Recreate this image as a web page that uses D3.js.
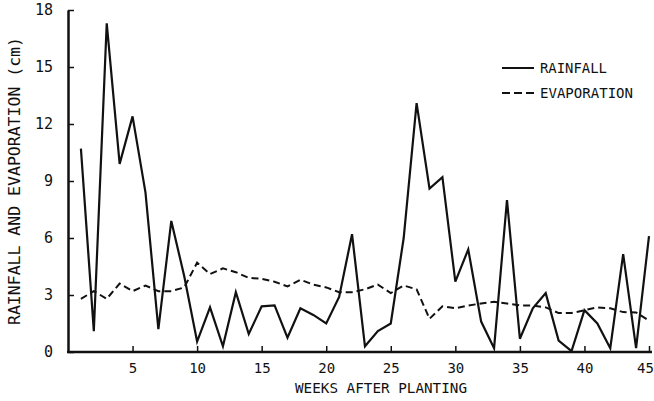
<!DOCTYPE html>
<html>
<head>
<meta charset="utf-8">
<script src="https://cdn.jsdelivr.net/npm/d3@7"></script>
<style>
  html, body { margin: 0; padding: 0; background: #fff; }
  svg { display: block; }
  text { font-family: "DejaVu Sans Mono", "Liberation Mono", monospace; fill: #111; }
</style>
</head>
<body>
<svg id="chart" width="654" height="401"></svg>
<script>
const weeks = d3.range(1, 46);
const rainfall = [10.7, 1.1, 17.3, 9.9, 12.4, 8.4, 1.2, 6.9, 4.0, 0.55,
                  2.35, 0.3, 3.15, 0.95, 2.4, 2.45, 0.75, 2.3, 1.95, 1.5,
                  2.9, 6.2, 0.3, 1.1, 1.5, 6.0, 13.1, 8.6, 9.2, 3.7,
                  5.4, 1.6, 0.2, 8.0, 0.7, 2.3, 3.1, 0.6, 0.05, 2.2,
                  1.5, 0.2, 5.15, 0.2, 6.1];
const evaporation = [2.8, 3.2, 2.8, 3.6, 3.2, 3.5, 3.2, 3.2, 3.4, 4.7,
                     4.1, 4.4, 4.2, 3.9, 3.85, 3.7, 3.45, 3.8, 3.55, 3.4,
                     3.15, 3.15, 3.3, 3.55, 3.1, 3.5, 3.3, 1.75, 2.4, 2.3,
                     2.45, 2.55, 2.65, 2.55, 2.45, 2.45, 2.35, 2.05, 2.05, 2.2,
                     2.35, 2.3, 2.1, 2.08, 1.65];
const xTicks = [5, 10, 15, 20, 25, 30, 35, 40, 45];
const yTicks = [0, 3, 6, 9, 12, 15, 18];
const seriesNames = ["RAINFALL", "EVAPORATION"];

const svg = d3.select("#chart");
const x = d3.scaleLinear().domain([0, 45]).range([68, 649]);
const y = d3.scaleLinear().domain([0, 18]).range([352, 10]);

// Y axis
const yAxis = svg.append("g").attr("transform", `translate(${x(0)},0)`)
  .call(d3.axisLeft(y).tickValues(yTicks).tickSize(-6).tickSizeOuter(0).tickPadding(15));
yAxis.select(".domain").attr("stroke", "#111").attr("stroke-width", 2.5);
yAxis.selectAll(".tick line").attr("stroke", "#111").attr("stroke-width", 1.5);
yAxis.selectAll("text").style("font-size", "15px").attr("fill", "#111");

// X axis
const xAxis = svg.append("g").attr("transform", `translate(0,${y(0)})`)
  .call(d3.axisBottom(x).tickValues(xTicks).tickSize(-6).tickSizeOuter(0).tickPadding(11));
xAxis.select(".domain").attr("stroke", "#111").attr("stroke-width", 2.5)
  .attr("d", `M${x(0) - 1},0H${x(45) + 3}`);
xAxis.selectAll(".tick line").attr("stroke", "#111").attr("stroke-width", 1.5);
xAxis.selectAll("text").style("font-size", "14px").attr("fill", "#111")
  .attr("dx", d => d === 45 ? -4 : 0);

// Axis titles
svg.append("text")
  .attr("transform", `translate(20,181) rotate(-90)`)
  .attr("text-anchor", "middle")
  .style("font-size", "15px")
  .attr("textLength", 288).attr("lengthAdjust", "spacingAndGlyphs")
  .text("RAINFALL AND EVAPORATION (cm)");
svg.append("text")
  .attr("x", 381).attr("y", 393)
  .attr("text-anchor", "middle")
  .style("font-size", "14px")
  .attr("textLength", 172).attr("lengthAdjust", "spacingAndGlyphs")
  .text("WEEKS AFTER PLANTING");

// Lines
const line = d3.line().x((d, i) => x(weeks[i])).y(d => y(d));
svg.append("path").datum(evaporation)
  .attr("d", line).attr("fill", "none")
  .attr("stroke", "#111").attr("stroke-width", 2)
  .attr("stroke-dasharray", "7,4");
svg.append("path").datum(rainfall)
  .attr("d", line).attr("fill", "none")
  .attr("stroke", "#111").attr("stroke-width", 2.2)
  .attr("stroke-linejoin", "miter");

// Legend
const legend = svg.append("g");
const ly = [68, 93];
const dashes = [null, "8,4"];
seriesNames.forEach((name, i) => {
  legend.append("line")
    .attr("x1", 502).attr("x2", 534).attr("y1", ly[i]).attr("y2", ly[i])
    .attr("stroke", "#111").attr("stroke-width", 2)
    .attr("stroke-dasharray", dashes[i]);
  legend.append("text")
    .attr("x", 540).attr("y", ly[i]).attr("dy", "0.36em")
    .style("font-size", "14px")
    .attr("textLength", i === 0 ? 67 : 93).attr("lengthAdjust", "spacingAndGlyphs")
    .text(name);
});
</script>
</body>
</html>
